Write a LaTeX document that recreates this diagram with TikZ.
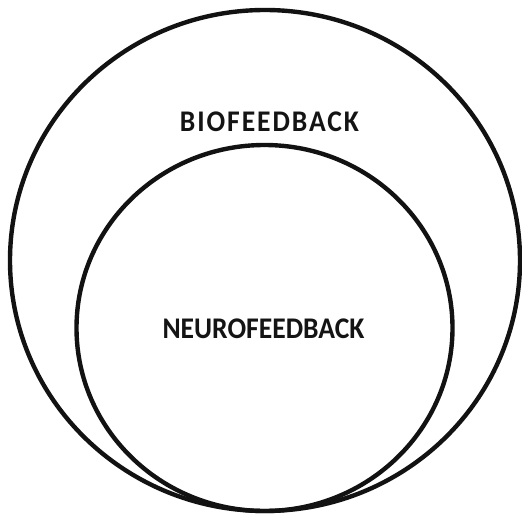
\documentclass[tikz,border=0pt]{standalone}
\usepackage{fontspec}
\setmainfont{Carlito}
\begin{document}
\begin{tikzpicture}[x=1pt,y=-1pt,
  ring/.style={draw=black!93,line width=4.4pt},
  lab/.style={font=\bfseries\fontsize{30}{32}\selectfont,text=black!92,inner sep=0pt}]
\useasboundingbox (0,0) rectangle (522,516);
\draw[ring] (265,260.5) ellipse [x radius=255, y radius=250.5];
\draw[ring] (264.5,328) ellipse [x radius=188, y radius=183];
\node[lab] (bio) at (269.5,122) {\scalebox{0.92}[1]{\addfontfeature{LetterSpace=7}BIOFEEDBACK}};
\node[lab] (neuro) at (263.5,329) {\scalebox{0.92}[1]{NEUROFEEDBACK}};
\end{tikzpicture}
\end{document}
